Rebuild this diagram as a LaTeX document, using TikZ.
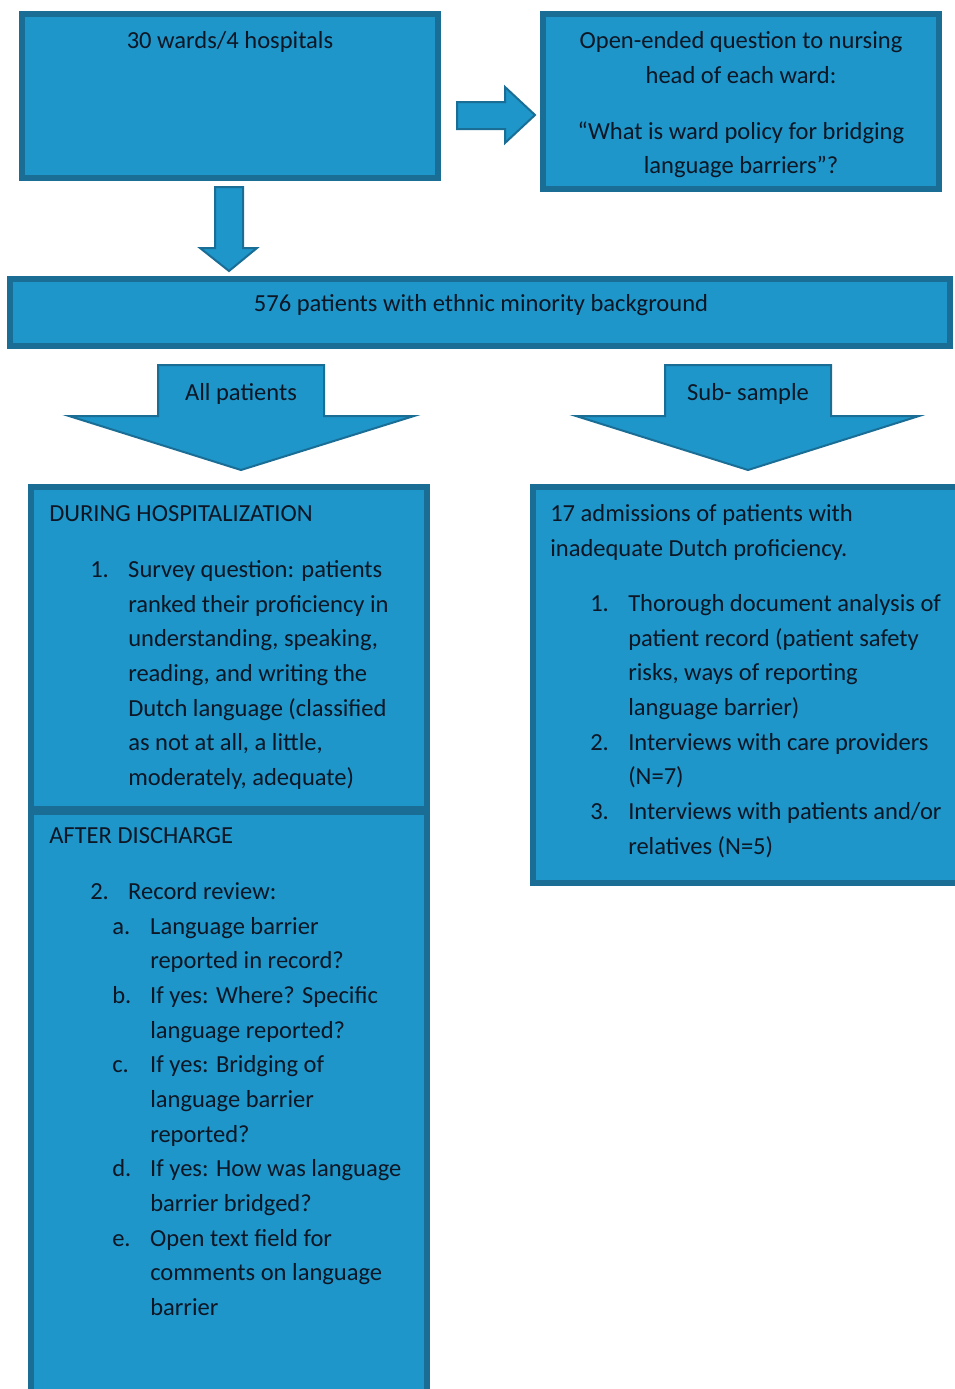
\documentclass[tikz,border=0pt]{standalone}
\usepackage{fontspec}
\setmainfont{Carlito}
\definecolor{boxfill}{RGB}{30,150,202}
\definecolor{boxline}{RGB}{26,110,150}
\definecolor{ink}{RGB}{12,22,36}
\newcommand{\lbl}[1]{\makebox[28.5pt][l]{#1}}
\newcommand{\ind}[1]{\hspace*{#1}}

\begin{document}
\begin{tikzpicture}[x=0.75pt,y=-0.75pt]
\tikzstyle{box}=[draw=boxline, fill=boxfill, line width=4.5pt]
\tikzstyle{blockarrow}=[draw=boxline, fill=boxfill, line width=1.5pt, line join=miter]
\tikzstyle{txt}=[text=ink, inner sep=0pt, font=\fontsize{18.4}{26}\selectfont]
\tikzstyle{listtxt}=[txt, anchor=north west, align=left]

\useasboundingbox (0,0) rectangle (955,1389);
\fill[white] (0,0) rectangle (955,1389);

% top row
\draw[box] (22,14) rectangle (438,178);
\draw[box] (543,14) rectangle (939,189);
\node[txt] (wards) at (230,42) {30 wards/4 hospitals};
\node[txt, anchor=north, align=center] (question) at (741,24)
  {\strut Open-ended question to nursing\\ head of each ward:\\[16pt]
   “What is ward policy for bridging\\ language barriers”?};

% block arrows
\draw[blockarrow] (457,102) -- (505,102) -- (505,87) -- (535,115) -- (505,143)
  -- (505,129) -- (457,129) -- cycle;
\draw[blockarrow] (215,187) -- (243,187) -- (243,248) -- (257,248) -- (229,271)
  -- (200,248) -- (215,248) -- cycle;

% all patients
\draw[box] (10,279) rectangle (950,346);
\node[txt] (patients) at (481,305) {576 patients with ethnic minority background};

% split arrows
\draw[blockarrow] (158,365) -- (324,365) -- (324,416) -- (414,416) -- (241,470)
  -- (69,416) -- (158,416) -- cycle;
\node[txt] (all) at (241,394) {All patients};
\draw[blockarrow] (665,365) -- (831,365) -- (831,416) -- (919,416) -- (748,470)
  -- (576,416) -- (665,416) -- cycle;
\node[txt] (sub) at (748,394) {Sub- sample};

% left column
\draw[box] (31,487) rectangle (427,809);
\draw[box] (31,812) rectangle (427,1400);
\node[txt, anchor=base west] (during) at (49,521) {DURING HOSPITALIZATION};
\node[listtxt] (survey) at (90,553)
  {\strut\lbl{1.}Survey question: patients\\
   \ind{28.5pt}ranked their proficiency in\\
   \ind{28.5pt}understanding, speaking,\\
   \ind{28.5pt}reading, and writing the\\
   \ind{28.5pt}Dutch language (classified\\
   \ind{28.5pt}as not at all, a little,\\
   \ind{28.5pt}moderately, adequate)};
\node[txt, anchor=base west] (after) at (49,843) {AFTER DISCHARGE};
\node[listtxt] (review) at (90,875)
  {\strut\lbl{2.}Record review:\\
   \ind{16.5pt}\lbl{a.}Language barrier\\
   \ind{45pt}reported in record?\\
   \ind{16.5pt}\lbl{b.}If yes: Where? Specific\\
   \ind{45pt}language reported?\\
   \ind{16.5pt}\lbl{c.}If yes: Bridging of\\
   \ind{45pt}language barrier\\
   \ind{45pt}reported?\\
   \ind{16.5pt}\lbl{d.}If yes: How was language\\
   \ind{45pt}barrier bridged?\\
   \ind{16.5pt}\lbl{e.}Open text field for\\
   \ind{45pt}comments on language\\
   \ind{45pt}barrier};

% right column
\draw[box] (533,487) rectangle (965,883);
\node[listtxt] (admissions) at (550,497)
  {\strut 17 admissions of patients with\\ inadequate Dutch proficiency.};
\node[listtxt] (analysis) at (590,587)
  {\strut\lbl{1.}Thorough document analysis of\\
   \ind{28.5pt}patient record (patient safety\\
   \ind{28.5pt}risks, ways of reporting\\
   \ind{28.5pt}language barrier)\\
   \lbl{2.}Interviews with care providers\\
   \ind{28.5pt}(N=7)\\
   \lbl{3.}Interviews with patients and/or\\
   \ind{28.5pt}relatives (N=5)};
\end{tikzpicture}
\end{document}
